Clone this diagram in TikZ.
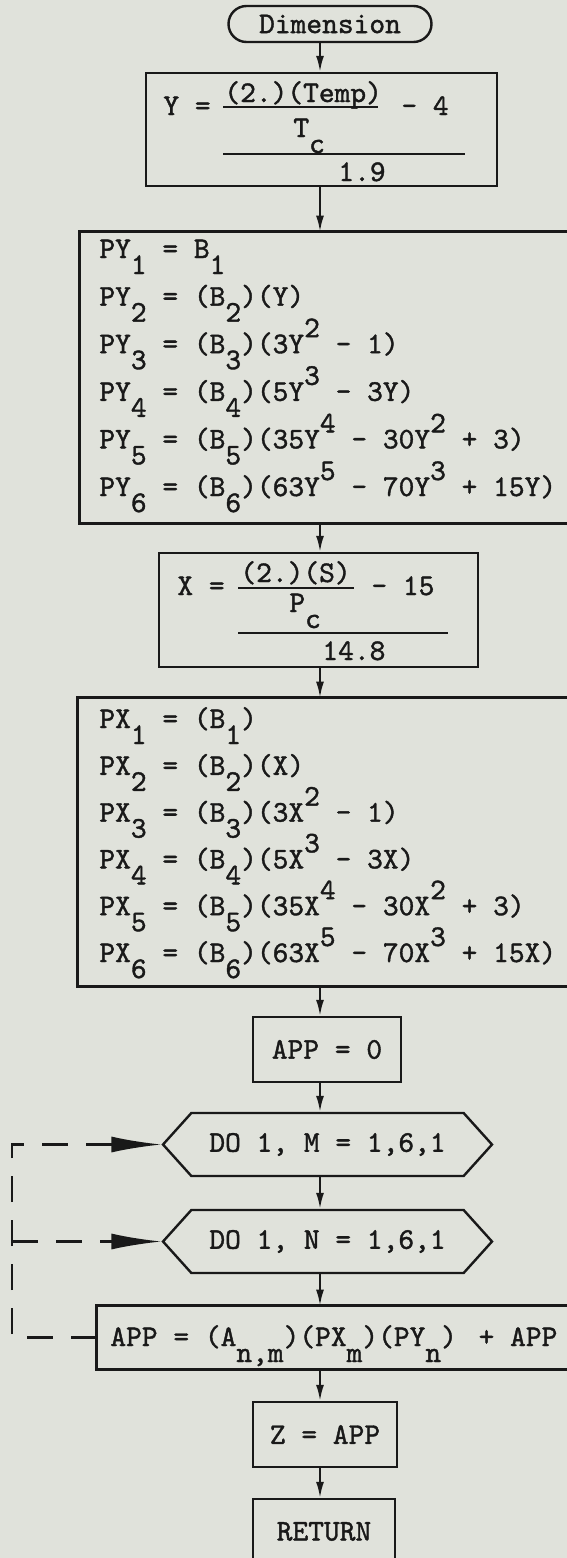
\documentclass[tikz,border=0pt]{standalone}
\usepackage{fontspec}
\usepackage{xcolor}
\usepackage{tikz}
\usetikzlibrary{arrows.meta,positioning,calc,shapes.symbols}
\newfontfamily\typer{lmmono10-regular.otf}[FakeBold=1.3]
\definecolor{paper}{RGB}{224,226,219}
\definecolor{ink}{RGB}{25,25,25}
\newcommand{\dn}[1]{\smash{\raisebox{-8pt}{#1}}}
\newcommand{\upr}[1]{\smash{\raisebox{8pt}{#1}}}

\begin{document}
\begin{tikzpicture}[x=0.5pt,y=-0.5pt,
  every node/.style={font=\fontsize{15}{17}\typer,text=ink},
  txt/.style={inner sep=0pt,anchor=base west},
  box/.style={draw=ink,line width=1.2pt,rectangle,inner sep=0pt},
  widebox/.style={rectangle,inner sep=0pt},
  term/.style={box,rounded corners=9pt},
  hexa/.style={draw=ink,line width=1.2pt,signal,signal to=east and west,
               signal pointer angle=96,inner sep=0pt},
  edge/.style={ink,line width=1.2pt},
  flow/.style={ink,line width=1pt,-{Latex[length=8pt,width=4pt]}},
  loopline/.style={ink,line width=1.1pt,dash pattern=on 13pt off 9pt,
                   -{Latex[length=25pt,width=8pt]}}]
  \fill[paper] (0,0) rectangle (567,1558);
  \path[use as bounding box] (0,0) rectangle (567,1558);
  \coordinate (spine) at (320,0);
  \coordinate (lp) at (12,0);

  % start
  \node[term,minimum width=101.5pt,minimum height=18pt] (dim) at (330,24) {Dimension};

  % reduced temperature
  \node[box,minimum width=175.5pt,minimum height=56.5pt] (ybox) at (321.5,129.5) {};
  \node[txt] (ylhs) at (163,115) {Y =};
  \node[txt] (ynum) at (224,102) {(2.)(Temp)};
  \node[txt] (yden) at (293,137) {T\dn{c}};
  \node[txt] (yoff) at (401,115) {- 4};
  \node[txt] (ydiv) at (338,181) {1.9};
  \draw[ink,line width=1pt] (223,107) -- (378,107);
  \draw[ink,line width=1pt] (223,154) -- (465,154);

  % polynomials in Y (box runs off the right edge)
  \node[widebox,minimum width=243.2pt,minimum height=145.5pt] (pybox) at (323.2,377.5) {};
  \draw[edge] (pybox.north east) -- (pybox.north west) -- (pybox.south west) -- (pybox.south east);
  \foreach \txt [count=\i] in {{PY\dn{1} = B\dn{1}},
      {PY\dn{2} = (B\dn{2})(Y)},
      {PY\dn{3} = (B\dn{3})(3Y\upr{2} - 1)},
      {PY\dn{4} = (B\dn{4})(5Y\upr{3} - 3Y)},
      {PY\dn{5} = (B\dn{5})(35Y\upr{4} - 30Y\upr{2} + 3)},
      {PY\dn{6} = (B\dn{6})(63Y\upr{5} - 70Y\upr{3} + 15Y)}}
    \node[txt] (py\i) at (99,{210.4+47.6*\i}) {\txt};

  % reduced pressure
  \node[box,minimum width=159.5pt,minimum height=57pt] (xbox) at (318.5,610) {};
  \node[txt] (xlhs) at (177,595) {X =};
  \node[txt] (xnum) at (240,582) {(2.)(S)};
  \node[txt] (xden) at (289,612) {P\dn{c}};
  \node[txt] (xoff) at (371,595) {- 15};
  \node[txt] (xdiv) at (322,660) {14.8};
  \draw[ink,line width=1pt] (238,588) -- (354,588);
  \draw[ink,line width=1pt] (238,633) -- (448,633);

  % polynomials in X
  \node[widebox,minimum width=244.2pt,minimum height=144pt] (pxbox) at (322.2,842) {};
  \draw[edge] (pxbox.north east) -- (pxbox.north west) -- (pxbox.south west) -- (pxbox.south east);
  \foreach \txt [count=\i] in {{PX\dn{1} = (B\dn{1})},
      {PX\dn{2} = (B\dn{2})(X)},
      {PX\dn{3} = (B\dn{3})(3X\upr{2} - 1)},
      {PX\dn{4} = (B\dn{4})(5X\upr{3} - 3X)},
      {PX\dn{5} = (B\dn{5})(35X\upr{4} - 30X\upr{2} + 3)},
      {PX\dn{6} = (B\dn{6})(63X\upr{5} - 70X\upr{3} + 15X)}}
    \node[txt] (px\i) at (99,{681.2+46.8*\i}) {\txt};

  % double loop
  \node[box,minimum width=74pt,minimum height=32.5pt] (appzero) at (327,1049.5) {APP = 0};
  \node[hexa,minimum width=164.5pt,minimum height=31.5pt] (dom) at (327.5,1144.5) {DO 1, M = 1,6,1};
  \node[hexa,minimum width=164.5pt,minimum height=31.5pt] (don) at (327.5,1241.5) {DO 1, N = 1,6,1};
  \node[widebox,minimum width=234.7pt,minimum height=31.5pt] (appsum) at (331.7,1337.5) {};
  \draw[edge] (appsum.north east) -- (appsum.north west) -- (appsum.south west) -- (appsum.south east);
  \node[txt] (appsumtxt) at (110,1346) {APP = (A\dn{n,m})(PX\dn{m})(PY\dn{n}) \kern3pt+ APP};
  \node[box,minimum width=72pt,minimum height=32.5pt] (zbox) at (325,1434.5) {Z = APP};
  \node[box,minimum width=71pt,minimum height=32.5pt] (ret) at (324,1531.5) {RETURN};

  \draw[flow] (dim.south -| spine) -- (ybox.north -| spine);
  \draw[flow] (ybox.south -| spine) -- (pybox.north -| spine);
  \draw[flow] (pybox.south -| spine) -- (xbox.north -| spine);
  \draw[flow] (xbox.south -| spine) -- (pxbox.north -| spine);
  \draw[flow] (pxbox.south -| spine) -- (appzero.north -| spine);
  \draw[flow] (appzero.south -| spine) -- (dom.north -| spine);
  \draw[flow] (dom.south -| spine) -- (don.north -| spine);
  \draw[flow] (don.south -| spine) -- (appsum.north -| spine);
  \draw[flow] (appsum.south -| spine) -- (zbox.north -| spine);
  \draw[flow] (zbox.south -| spine) -- (ret.north -| spine);

  \draw[loopline] (appsum.west) -- (appsum.west -| lp) -- (dom.west -| lp) -- (dom.west);
  \draw[loopline] (don.west -| lp) -- (don.west);
\end{tikzpicture}
\end{document}
